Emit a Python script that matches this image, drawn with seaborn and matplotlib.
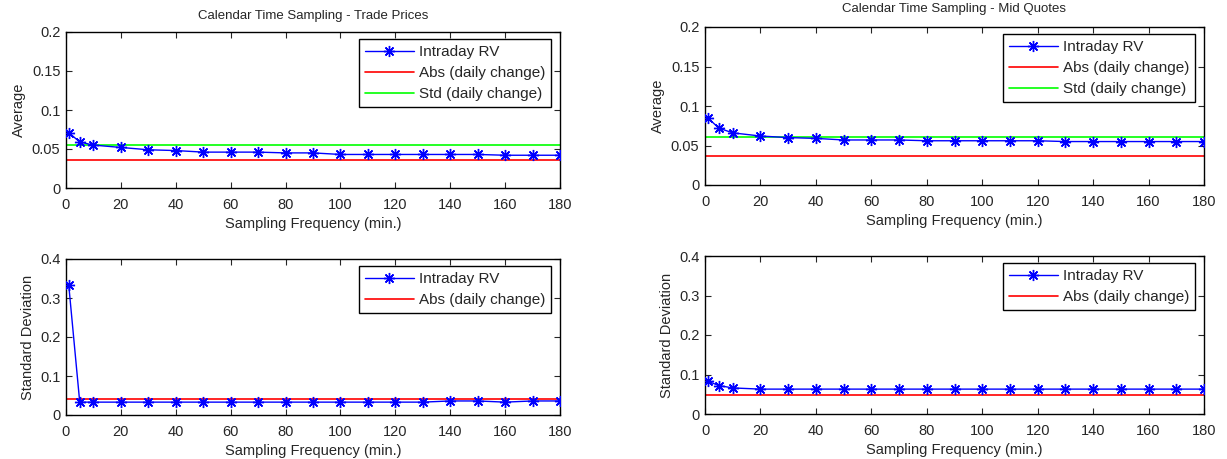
import numpy as np
import pandas as pd
import matplotlib
matplotlib.use("Agg")
import matplotlib.pyplot as plt
import seaborn as sns

# ---- data ----
freq = [1, 5, 10, 20, 30, 40, 50, 60, 70, 80, 90, 100, 110, 120, 130, 140, 150, 160, 170, 180]

trade_avg_rv = [0.071, 0.059, 0.055, 0.052, 0.049, 0.048, 0.046, 0.046, 0.046, 0.045,
                0.045, 0.043, 0.043, 0.043, 0.043, 0.043, 0.043, 0.042, 0.042, 0.042]
trade_avg_abs = 0.036
trade_avg_std = 0.055

mid_avg_rv = [0.085, 0.072, 0.066, 0.062, 0.060, 0.059, 0.057, 0.057, 0.057, 0.056,
              0.056, 0.056, 0.056, 0.056, 0.055, 0.055, 0.055, 0.055, 0.055, 0.055]
mid_avg_abs = 0.037
mid_avg_std = 0.061

trade_sd_rv = [0.333, 0.033, 0.033, 0.033, 0.033, 0.033, 0.033, 0.033, 0.033, 0.033,
               0.033, 0.033, 0.033, 0.033, 0.033, 0.036, 0.036, 0.033, 0.036, 0.036]
trade_sd_abs = 0.042

mid_sd_rv = [0.083, 0.072, 0.066, 0.063, 0.063, 0.063, 0.063, 0.063, 0.063, 0.063,
             0.063, 0.063, 0.063, 0.063, 0.063, 0.063, 0.063, 0.063, 0.063, 0.063]
mid_sd_abs = 0.049

x_range = [0, 180]
x_ticks = [0, 20, 40, 60, 80, 100, 120, 140, 160, 180]
avg_ticks = [0, 0.05, 0.1, 0.15, 0.2]
avg_ticklabels = ["0", "0.05", "0.1", "0.15", "0.2"]
sd_ticks = [0, 0.1, 0.2, 0.3, 0.4]
sd_ticklabels = ["0", "0.1", "0.2", "0.3", "0.4"]

titles = ["Calendar Time Sampling - Trade Prices", "Calendar Time Sampling - Mid Quotes"]
xlabel = "Sampling Frequency (min.)"

# ---- style ----
sns.set_style("ticks")
plt.rcParams["font.family"] = ["Liberation Sans", "DejaVu Sans"]
plt.rcParams["axes.linewidth"] = 1.0
plt.rcParams["xtick.direction"] = "in"
plt.rcParams["ytick.direction"] = "in"

fig = plt.figure(figsize=(12.27, 4.59), dpi=100)
W, H = 1227, 459

def add_ax(l, t, r, b):
    return fig.add_axes([l / W, 1 - b / H, (r - l) / W, (b - t) / H])

ax_tl = add_ax(66, 32, 560, 188)
ax_tr = add_ax(705, 27, 1204, 185)
ax_bl = add_ax(66, 259, 560, 415)
ax_br = add_ax(705, 256, 1204, 414)

BLUE = (0, 0, 1)
RED = (1, 0, 0)
GREEN = (0, 1, 0)


def draw(ax, rv, abs_v, std_v, ylab, yticks, yticklabels, title=None, tpad=8):
    sns.lineplot(x=freq, y=rv, ax=ax, color=BLUE, lw=1.0, marker=(8, 2, 0),
                 markersize=8, markeredgewidth=1.0, markeredgecolor=BLUE,
                 label="Intraday RV", zorder=3)
    sns.lineplot(x=x_range, y=[abs_v, abs_v], ax=ax, color=RED, lw=1.2,
                 label="Abs (daily change)", zorder=2)
    if std_v is not None:
        sns.lineplot(x=x_range, y=[std_v, std_v], ax=ax, color=GREEN, lw=1.2,
                     label="Std (daily change)", zorder=2)
    ax.set_xlim(0, 180)
    ax.set_ylim(yticks[0], yticks[-1])
    ax.set_xticks(x_ticks)
    ax.set_xticklabels([str(v) for v in x_ticks])
    ax.set_yticks(yticks)
    ax.set_yticklabels(yticklabels)
    ax.tick_params(axis="both", which="both", direction="in", length=4, width=0.8,
                   labelsize=10.5, top=True, right=True)
    ax.tick_params(axis="x", pad=7)
    ax.tick_params(axis="y", pad=4)
    ax.set_xlabel(xlabel, fontsize=10.5, labelpad=4)
    ax.set_ylabel(ylab, fontsize=10.5, labelpad=4)
    for s in ax.spines.values():
        s.set_visible(True)
        s.set_color("black")
        s.set_linewidth(1.0)
    if title:
        ax.set_title(title, fontsize=9.5, pad=tpad)
    axw = ax.get_position().width * W
    axh = ax.get_position().height * H
    leg = ax.legend(loc="upper right",
                    bbox_to_anchor=(1 - 9 / axw, 1 - 7 / axh),
                    borderaxespad=0, fancybox=False, framealpha=1,
                    edgecolor="black", fontsize=11, handlelength=3.2,
                    handletextpad=0.3, borderpad=0.4, labelspacing=0.45)
    leg.get_frame().set_linewidth(1.0)


draw(ax_tl, trade_avg_rv, trade_avg_abs, trade_avg_std, "Average",
     avg_ticks, avg_ticklabels, titles[0], tpad=9)
draw(ax_tr, mid_avg_rv, mid_avg_abs, mid_avg_std, "Average",
     avg_ticks, avg_ticklabels, titles[1], tpad=11)
draw(ax_bl, trade_sd_rv, trade_sd_abs, None, "Standard Deviation",
     sd_ticks, sd_ticklabels)
draw(ax_br, mid_sd_rv, mid_sd_abs, None, "Standard Deviation",
     sd_ticks, sd_ticklabels)

fig.savefig("out.png", dpi=100, facecolor="white")
